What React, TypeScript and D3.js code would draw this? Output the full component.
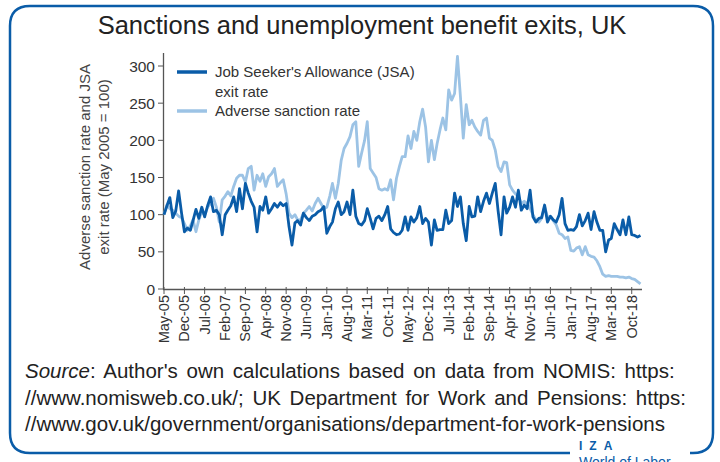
import { useEffect, useRef } from 'react';
import * as d3 from 'd3';

// monthly values, May 2005 .. Jan 2019 (May 2005 = 100)
const jsaExitRate = [
  100, 112, 123, 96, 105, 132, 102, 77, 82, 79, 92, 107, 95, 110, 97, 112, 124, 104, 106, 100,
  73, 100, 106, 112, 124, 104, 135, 108, 142, 129, 118, 110, 77, 111, 106, 124, 102, 108, 115, 110,
  116, 112, 115, 84, 59, 89, 92, 86, 102, 96, 92, 98, 100, 104, 106, 111, 75, 84, 90, 108,
  117, 100, 104, 117, 100, 133, 98, 88, 86, 92, 108, 95, 81, 95, 98, 92, 100, 111, 81, 76,
  73, 74, 79, 97, 79, 97, 90, 96, 111, 88, 95, 90, 59, 93, 79, 80, 80, 106, 88, 92,
  129, 111, 124, 88, 65, 111, 97, 98, 124, 104, 118, 129, 115, 129, 142, 105, 73, 124, 102, 110,
  124, 110, 133, 106, 113, 108, 133, 97, 90, 95, 96, 113, 90, 98, 93, 90, 100, 122, 88, 79,
  80, 79, 84, 100, 85, 92, 102, 80, 104, 90, 79, 79, 50, 66, 68, 88, 80, 73, 93, 73,
  97, 73, 72, 70, 72,
];

const sanctionRate = [
  100, 113, 108, 106, 102, 98, 96, 88, 79, 85, 93, 77, 93, 104, 100, 110, 115, 122, 110, 90,
  120, 125, 131, 125, 138, 149, 153, 153, 144, 162, 165, 133, 153, 145, 155, 138, 151, 155, 162, 138,
  143, 147, 128, 102, 96, 100, 93, 93, 102, 106, 111, 105, 115, 122, 115, 108, 110, 125, 142, 122,
  142, 173, 189, 196, 205, 221, 225, 165, 183, 200, 225, 162, 156, 150, 135, 133, 135, 133, 147, 120,
  149, 165, 178, 178, 206, 189, 212, 200, 225, 242, 218, 171, 200, 174, 195, 214, 230, 214, 268, 254,
  263, 313, 259, 203, 248, 221, 227, 218, 212, 207, 227, 230, 203, 200, 187, 165, 158, 171, 170, 140,
  133, 128, 125, 115, 118, 115, 108, 100, 93, 90, 95, 111, 97, 97, 92, 86, 75, 73, 68, 70,
  52, 51, 55, 57, 46, 57, 46, 44, 43, 38, 30, 20, 17, 18, 17, 17, 17, 16, 16, 15,
  16, 14, 13, 10, 7,
];

const yTicks = [0, 50, 100, 150, 200, 250, 300];
const monthNames = ['Jan', 'Feb', 'Mar', 'Apr', 'May', 'Jun', 'Jul', 'Aug', 'Sep', 'Oct', 'Nov', 'Dec'];

const legendItems = [
  { lines: ["Job Seeker's Allowance (JSA)", 'exit rate'], color: '#0a5ca8' },
  { lines: ['Adverse sanction rate'], color: '#9cc3e5' },
];

const sourceLines = [
  ": Author's own calculations based on data from NOMIS: https:",
  '//www.nomisweb.co.uk/; UK Department for Work and Pensions: https:',
  '//www.gov.uk/government/organisations/department-for-work-pensions',
];

const W = 720;
const H = 462;
const font = '"Liberation Sans", Arial, sans-serif';

const App = () => {
  const ref = useRef<SVGSVGElement>(null);

  useEffect(() => {
    const svg = d3.select(ref.current);
    svg.selectAll('*').remove();

    const dates = jsaExitRate.map((_, i) => new Date(2005, 4 + i, 1));
    const x = d3
      .scaleTime()
      .domain([new Date(2005, 4, 1), new Date(2019, 0, 1)])
      .range([164, 640.5]);
    const y = d3.scaleLinear().domain([0, 300]).range([289, 66]);

    // frame, open at the bottom right for the logo
    svg
      .append('path')
      .attr(
        'd',
        'M690,453 L693,453 Q713,453 713,433 L713,26 Q713,6 693,6 L30,6 Q10,6 10,26 L10,433 Q10,453 30,453 L570,453'
      )
      .attr('fill', 'none')
      .attr('stroke', '#0a5ca8')
      .attr('stroke-width', 2.5);

    svg
      .append('text')
      .attr('x', 362)
      .attr('y', 34)
      .attr('text-anchor', 'middle')
      .style('font-family', font)
      .style('font-size', '25.5px')
      .style('fill', '#222')
      .text('Sanctions and unemployment benefit exits, UK');

    // axes
    const g = svg.append('g').style('font-family', font);
    g.append('line')
      .attr('x1', 163.5)
      .attr('x2', 163.5)
      .attr('y1', 53)
      .attr('y2', 289.5)
      .attr('stroke', '#555')
      .attr('stroke-width', 1.3);
    g.append('line')
      .attr('x1', 163)
      .attr('x2', 642)
      .attr('y1', 289.5)
      .attr('y2', 289.5)
      .attr('stroke', '#555')
      .attr('stroke-width', 1.3);

    const yt = g.selectAll('.ytick').data(yTicks).enter().append('g').attr('class', 'ytick');
    yt.append('line')
      .attr('x1', 158)
      .attr('x2', 163.5)
      .attr('y1', (d) => y(d))
      .attr('y2', (d) => y(d))
      .attr('stroke', '#555');
    yt.append('text')
      .attr('x', 155)
      .attr('y', (d) => y(d) + 5.5)
      .attr('text-anchor', 'end')
      .style('font-size', '15.5px')
      .style('fill', '#333')
      .text((d) => d);

    const xTicks = d3.range(0, 162, 7).map((i) => dates[i]);
    const xt = g.selectAll('.xtick').data(xTicks).enter().append('g').attr('class', 'xtick');
    xt.append('line')
      .attr('x1', (d) => x(d))
      .attr('x2', (d) => x(d))
      .attr('y1', 287)
      .attr('y2', 294)
      .attr('stroke', '#555');
    xt.append('text')
      .attr('transform', (d) => `translate(${x(d) + 5},295) rotate(-90)`)
      .attr('text-anchor', 'end')
      .style('font-size', '14.5px')
      .style('fill', '#333')
      .text((d) => `${monthNames[d.getMonth()]}-${String(d.getFullYear()).slice(2)}`);

    const yLabel = g
      .append('text')
      .attr('transform', 'translate(90,167) rotate(-90)')
      .attr('text-anchor', 'middle')
      .style('font-size', '15px')
      .style('fill', '#444');
    yLabel.append('tspan').attr('x', 0).attr('dy', 0).text('Adverse sanction rate and JSA');
    yLabel.append('tspan').attr('x', 0).attr('dy', 19).text('exit rate (May 2005 = 100)');

    // lines
    const line = d3
      .line<number>()
      .x((_, i) => x(dates[i]))
      .y((d) => y(d));
    g.append('path')
      .datum(sanctionRate)
      .attr('d', line)
      .attr('fill', 'none')
      .attr('stroke', legendItems[1].color)
      .attr('stroke-width', 2.8)
      .attr('stroke-linejoin', 'round');
    g.append('path')
      .datum(jsaExitRate)
      .attr('d', line)
      .attr('fill', 'none')
      .attr('stroke', legendItems[0].color)
      .attr('stroke-width', 2.8)
      .attr('stroke-linejoin', 'round');

    // legend
    let ly = 72;
    legendItems.forEach((item) => {
      g.append('line')
        .attr('x1', 177)
        .attr('x2', 207)
        .attr('y1', ly)
        .attr('y2', ly)
        .attr('stroke', item.color)
        .attr('stroke-width', 3.5);
      item.lines.forEach((t, k) => {
        g.append('text')
          .attr('x', 215)
          .attr('y', ly + 5 + k * 19.5)
          .style('font-size', '15px')
          .style('fill', '#333')
          .text(t);
      });
      ly += item.lines.length * 19.5;
    });

    // source (justified in the original, hence the wider word gaps)
    const src = svg
      .append('g')
      .style('font-family', font)
      .style('font-size', '20.5px')
      .style('word-spacing', '3px')
      .style('fill', '#222');
    sourceLines.forEach((t, i) => {
      const tx = src
        .append('text')
        .attr('x', 25)
        .attr('y', 378 + i * 26.5);
      if (i === 0) tx.append('tspan').style('font-style', 'italic').text('Source');
      tx.append('tspan').text(t);
    });

    // logo
    const logo = svg.append('g').style('font-family', font).style('fill', '#0a5ca8');
    logo
      .append('text')
      .attr('x', 579)
      .attr('y', 450)
      .style('font-size', '12px')
      .style('font-weight', 'bold')
      .style('letter-spacing', '7px')
      .text('IZA');
    logo
      .append('text')
      .attr('x', 579)
      .attr('y', 467)
      .style('font-size', '14px')
      .text('World of Labor');
  }, []);

  return (
    <svg
      ref={ref}
      width={W}
      height={H}
      style={{ position: 'absolute', left: 0, top: 0, background: 'white' }}
    />
  );
};

export default App;
